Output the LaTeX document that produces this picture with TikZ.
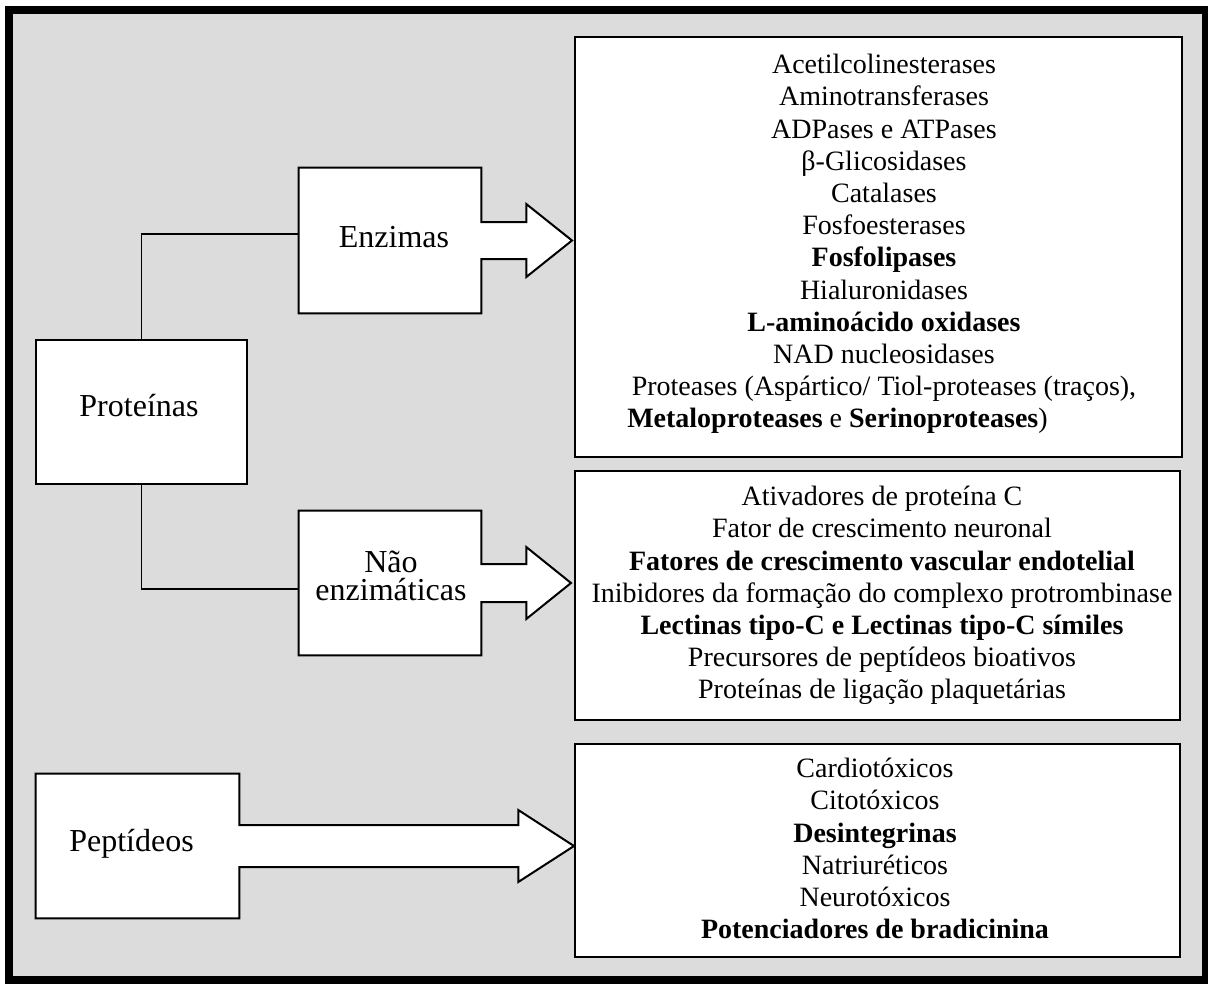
\documentclass[tikz,border=0pt]{standalone}
\usepackage{fontspec}
\setmainfont{Liberation Serif}
\usetikzlibrary{calc}
\pgfdeclarelayer{back}
\pgfdeclarelayer{shapes}
\pgfsetlayers{back,shapes,main}
\definecolor{panelgray}{RGB}{220,220,220}
\tikzset{
  frame/.style={draw=black, line width=6pt, fill=panelgray},
  box/.style={draw=black, line width=1.5pt, fill=white, inner sep=0pt},
  hidden/.style={inner sep=0pt, draw=none},
  arrowshape/.style={draw=black, line width=1.5pt, fill=white, line join=miter},
  conn/.style={draw=black, line width=1.2pt},
  labeltext/.style={font=\fontsize{24pt}{21pt}\selectfont, inner sep=0pt, align=center},
  listtext/.style={font=\fontsize{21pt}{24.15pt}\selectfont, inner sep=0pt, align=center},
}
\begin{document}
\begin{tikzpicture}[x=0.75pt,y=-0.75pt]
\useasboundingbox (0,0) rectangle (1208,983);
\begin{pgfonlayer}{back}
\draw[frame] (9,10) rectangle (1206,980);
\end{pgfonlayer}

% list boxes
\node[box, minimum width=455.25pt, minimum height=315pt] (enzlist) at (878.5,247) {};
\node[box, minimum width=453.75pt, minimum height=186.75pt] (nelist) at (877.5,595.5) {};
\node[box, minimum width=453.75pt, minimum height=159.75pt] (peplist) at (877.5,850.5) {};

% left boxes
\node[box, minimum width=158.25pt, minimum height=108pt] (prot) at (141.5,412) {};
\node[hidden, minimum width=136.5pt, minimum height=108.75pt] (enz) at (390,240.5) {};
\node[hidden, minimum width=136.5pt, minimum height=108pt] (nenz) at (390,583) {};
\node[hidden, minimum width=152.25pt, minimum height=108pt] (pep) at (137.5,846) {};

% arrow-shaped boxes
\begin{pgfonlayer}{shapes}
\path[arrowshape] (enz.north west) -- (enz.north east)
  -- ($(enz.east)+(0,-18.5)$) -- ($(enz.east)+(45,-18.5)$) -- ($(enz.east)+(45,-36.5)$)
  -- ($(enzlist.west |- enz.east)+(-2,0)$)
  -- ($(enz.east)+(45,36.5)$) -- ($(enz.east)+(45,18.5)$) -- ($(enz.east)+(0,18.5)$)
  -- (enz.south east) -- (enz.south west) -- cycle;
\path[arrowshape] (nenz.north west) -- (nenz.north east)
  -- ($(nenz.east)+(0,-19)$) -- ($(nenz.east)+(45,-19)$) -- ($(nenz.east)+(45,-36)$)
  -- ($(nelist.west |- nenz.east)+(-3,0)$)
  -- ($(nenz.east)+(45,36)$) -- ($(nenz.east)+(45,19)$) -- ($(nenz.east)+(0,19)$)
  -- (nenz.south east) -- (nenz.south west) -- cycle;
\path[arrowshape] (pep.north west) -- (pep.north east)
  -- ($(pep.east)+(0,-21)$) -- ($(pep.east)+(279,-21)$) -- ($(pep.east)+(279,-36)$)
  -- (peplist.west |- pep.east)
  -- ($(pep.east)+(279,36)$) -- ($(pep.east)+(279,21)$) -- ($(pep.east)+(0,21)$)
  -- (pep.south east) -- (pep.south west) -- cycle;
\end{pgfonlayer}

% connectors
\draw[conn] (prot.north) |- ($(enz.west)+(0,-6.5)$);
\draw[conn] (prot.south) |- ($(nenz.west)+(0,6)$);

% labels
\node[labeltext] (prottext) at (139,406) {Proteínas};
\node[labeltext] (enztext) at (394,236.8) {Enzimas};
\node[labeltext] (nenztext) at (391,576) {Não\\enzimáticas};
\node[labeltext] (peptext) at (131.5,844.2) {Peptídeos};

% lists
\node[listtext, anchor=north] (enzitems) at (884,54) {Acetilcolinesterases\\
Aminotransferases\\
ADPases e ATPases\\
β-Glicosidases\\
Catalases\\
Fosfoesterases\\
\textbf{Fosfolipases}\\
Hialuronidases\\
\textbf{L-aminoácido oxidases}\\
NAD nucleosidases\\
Proteases (Aspártico/ Tiol-proteases (traços),};
\node[listtext, anchor=base west] (enzlast) at (627,427) {\textbf{Metaloproteases} e \textbf{Serinoproteases})};

\node[listtext, anchor=north] (neitems) at (882,486) {Ativadores de proteína C\\
Fator de crescimento neuronal\\
\textbf{Fatores de crescimento vascular endotelial}\\
Inibidores da formação do complexo protrombinase\\
\textbf{Lectinas tipo-C e Lectinas tipo-C símiles}\\
Precursores de peptídeos bioativos\\
Proteínas de ligação plaquetárias};

\node[listtext, anchor=north] (pepitems) at (875,758) {Cardiotóxicos\\
Citotóxicos\\
\textbf{Desintegrinas}\\
Natriuréticos\\
Neurotóxicos\\
\textbf{Potenciadores de bradicinina}};
\end{tikzpicture}
\end{document}
